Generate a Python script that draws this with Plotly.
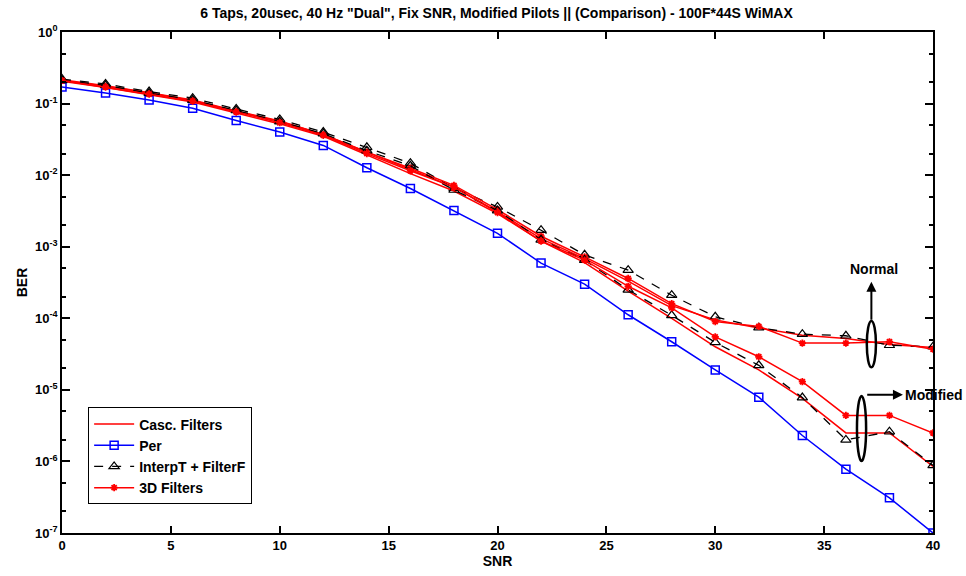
import plotly.graph_objects as go

snr = [0, 2, 4, 6, 8, 10, 12, 14, 16, 18, 20, 22, 24, 26, 28, 30, 32, 34, 36, 38, 40]

per = [0.17, 0.14, 0.112, 0.086, 0.058, 0.040, 0.026, 0.0127, 0.0065, 0.0032, 0.00154,
       5.9e-4, 3.0e-4, 1.12e-4, 4.7e-5, 1.9e-5, 7.9e-6, 2.3e-6, 7.8e-7, 3.1e-7, 1.0e-7]

interp_normal = [0.22, 0.188, 0.147, 0.119, 0.084, 0.060, 0.040, 0.0245, 0.0147, 0.0066, 0.0036,
                 0.0017, 7.7e-4, 4.7e-4, 2.1e-4, 1.05e-4, 7.4e-5, 6.0e-5, 5.7e-5, 4.2e-5, 4.0e-5]
interp_mod = [0.21, 0.18, 0.14, 0.112, 0.080, 0.056, 0.038, 0.022, 0.0135, 0.0062, 0.0032,
              0.00125, 6.5e-4, 2.5e-4, 1.1e-4, 4.6e-5, 2.2e-5, 7.8e-6, 2.0e-6, 2.6e-6, 8.8e-7]

d3_normal = [0.21, 0.175, 0.14, 0.11, 0.078, 0.056, 0.037, 0.021, 0.0125, 0.0072, 0.0033,
             0.0014, 7.2e-4, 3.6e-4, 1.6e-4, 9.0e-5, 7.7e-5, 4.5e-5, 4.5e-5, 4.7e-5, 3.7e-5]
d3_mod = [0.21, 0.17, 0.135, 0.108, 0.076, 0.054, 0.036, 0.020, 0.0115, 0.0068, 0.0030,
          0.0012, 6.5e-4, 2.8e-4, 1.4e-4, 5.5e-5, 2.9e-5, 1.3e-5, 4.4e-6, 4.4e-6, 2.5e-6]

casc_normal = [0.215, 0.178, 0.142, 0.112, 0.079, 0.057, 0.037, 0.021, 0.012, 0.0068, 0.0031,
               0.0013, 6.8e-4, 3.3e-4, 1.5e-4, 9.5e-5, 7.3e-5, 5.8e-5, 5.2e-5, 4.3e-5, 3.9e-5]
casc_mod = [0.205, 0.168, 0.133, 0.105, 0.074, 0.052, 0.035, 0.019, 0.0105, 0.006, 0.0029,
            0.0012, 6.0e-4, 2.4e-4, 1.0e-4, 4.0e-5, 1.9e-5, 7.6e-6, 2.5e-6, 2.5e-6, 8.5e-7]

ytick_vals = [1, 1e-1, 1e-2, 1e-3, 1e-4, 1e-5, 1e-6, 1e-7]
ytick_text = ["10<sup>0</sup>", "10<sup>-1</sup>", "10<sup>-2</sup>", "10<sup>-3</sup>",
              "10<sup>-4</sup>", "10<sup>-5</sup>", "10<sup>-6</sup>", "10<sup>-7</sup>"]
xtick_vals = [0, 5, 10, 15, 20, 25, 30, 35, 40]

FONT = "Liberation Sans, Arial, sans-serif"
RED = "#ff0000"
BLUE = "#0000ff"

fig = go.Figure()

fig.add_trace(go.Scatter(x=snr, y=casc_normal, mode="lines", name="<b>Casc. Filters</b>",
                         line=dict(color=RED, width=1.5)))
fig.add_trace(go.Scatter(x=snr, y=per, mode="lines+markers", name="<b>Per</b>",
                         line=dict(color=BLUE, width=1.5),
                         marker=dict(symbol="square-open", size=8, color=BLUE, line=dict(width=1.5))))
fig.add_trace(go.Scatter(x=snr, y=interp_normal, mode="lines+markers", name="<b>InterpT + FilterF</b>",
                         line=dict(color="black", width=1.3, dash="dash"),
                         marker=dict(symbol="triangle-up-open", size=9, color="black", line=dict(width=1.2))))
fig.add_trace(go.Scatter(x=snr, y=d3_normal, mode="lines+markers", name="<b>3D Filters</b>",
                         line=dict(color=RED, width=1.5),
                         marker=dict(symbol="asterisk-open", size=6, color=RED, line=dict(width=1.8, color=RED))))

fig.add_trace(go.Scatter(x=snr, y=casc_mod, mode="lines", showlegend=False,
                         line=dict(color=RED, width=1.5)))
fig.add_trace(go.Scatter(x=snr, y=interp_mod, mode="lines+markers", showlegend=False,
                         line=dict(color="black", width=1.3, dash="dash"),
                         marker=dict(symbol="triangle-up-open", size=9, color="black", line=dict(width=1.2))))
fig.add_trace(go.Scatter(x=snr, y=d3_mod, mode="lines+markers", showlegend=False,
                         line=dict(color=RED, width=1.5),
                         marker=dict(symbol="asterisk-open", size=6, color=RED, line=dict(width=1.8, color=RED))))

# ellipses (paper coordinates)
fig.add_shape(type="circle", xref="paper", yref="paper", x0=0.924, x1=0.9345, y0=0.331, y1=0.423,
              line=dict(color="black", width=2.5))
fig.add_shape(type="circle", xref="paper", yref="paper", x0=0.9127, x1=0.9232, y0=0.1437, y1=0.2735,
              line=dict(color="black", width=2.5))

# arrows (log units on y axis)
fig.add_annotation(x=37.17, y=-3.49, ax=37.17, ay=-4.04, xref="x", yref="y", axref="x", ayref="y",
                   text="", showarrow=True, arrowhead=2, arrowsize=1, arrowwidth=2, arrowcolor="black")
fig.add_annotation(x=38.62, y=-5.07, ax=36.91, ay=-5.07, xref="x", yref="y", axref="x", ayref="y",
                   text="", showarrow=True, arrowhead=2, arrowsize=1, arrowwidth=2, arrowcolor="black")
fig.add_annotation(x=37.28, y=-3.31, xref="x", yref="y", text="<b>Normal</b>", showarrow=False,
                   font=dict(family=FONT, size=14, color="black"))
fig.add_annotation(x=38.6, y=-5.07, xref="x", yref="y", text="<b>Modified</b>", showarrow=False,
                   xanchor="left", font=dict(family=FONT, size=14, color="black"))

axis_common = dict(showline=True, linecolor="black", linewidth=1.5, mirror="ticks",
                   ticks="inside", tickcolor="black", tickwidth=1.5, showgrid=False, zeroline=False,
                   tickfont=dict(family=FONT, size=13, color="black"))

fig.update_layout(
    width=966, height=576,
    margin=dict(l=62, r=33, t=32, b=43),
    paper_bgcolor="white", plot_bgcolor="white",
    title=dict(text='<b>6 Taps, 20usec, 40 Hz "Dual", Fix SNR, Modified Pilots || (Comparison) - 100F*44S WiMAX</b>',
               x=0.514, xanchor="center", y=0.977, yanchor="middle",
               font=dict(family=FONT, size=14, color="black")),
    xaxis=dict(range=[0, 40], tickvals=xtick_vals, ticktext=["<b>%d</b>" % v for v in xtick_vals],
               ticklen=7, title=dict(text="<b>SNR</b>", standoff=2,
                                     font=dict(family=FONT, size=14, color="black")),
               **axis_common),
    yaxis=dict(type="log", range=[-7, 0], tickvals=ytick_vals,
               ticktext=["<b>%s</b>" % t for t in ytick_text], ticklen=8,
               minor=dict(ticks="inside", ticklen=4, tickcolor="black", tickwidth=1.5, showgrid=False),
               title=dict(text="<b>BER</b>", standoff=4,
                          font=dict(family=FONT, size=14, color="black")),
               **axis_common),
    legend=dict(x=0.03, y=0.057, xanchor="left", yanchor="bottom", bgcolor="white",
                bordercolor="black", borderwidth=1, tracegroupgap=0,
                font=dict(family=FONT, size=14, color="black"), itemwidth=40),
    showlegend=True,
)

fig.write_html("out.html")
